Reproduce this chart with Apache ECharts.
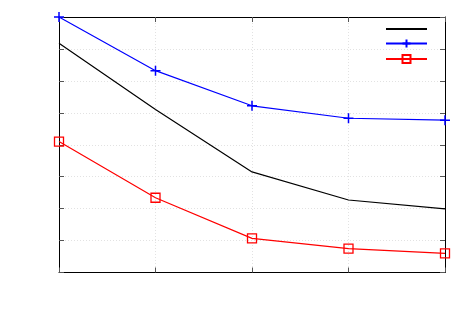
<!DOCTYPE html>
<html>
<head>
<meta charset="utf-8">
<script src="https://cdn.jsdelivr.net/npm/echarts@6/dist/echarts.min.js"></script>
<style>html,body{margin:0;padding:0;background:#fff}#c{width:472px;height:314px}</style>
</head>
<body>
<div id="c"></div>
<script>
const categories = ['1', '2', '3', '4', '5'];
const blackValues = [7.18, 5.10, 3.15, 2.27, 1.99];
const blueValues = [8.0, 6.32, 5.22, 4.83, 4.77];
const redValues = [4.10, 2.34, 1.07, 0.75, 0.60];
const yTicks = [0, 1, 2, 3, 4, 5, 6, 7, 8];

const chart = echarts.init(document.getElementById('c'), null, {renderer: 'canvas'});
const axisLine = {show: true, onZero: false, lineStyle: {color: '#000', width: 1}};
const tick = {show: true, inside: true, length: 5, lineStyle: {color: '#555', width: 1}};
const split = {show: true, lineStyle: {color: '#e2e2e2', type: [1, 2], width: 1}};
chart.setOption({
  animation: false,
  backgroundColor: '#fff',
  grid: {left: 59, top: 17, width: 386, height: 255.5, containLabel: false},
  legend: {
    orient: 'vertical', left: 380, top: 19, padding: 5, itemWidth: 41, itemHeight: 10, itemGap: 5.5,
    formatter: () => '', selectedMode: false,
    data: [{name: 's1', itemStyle: {opacity: 0}}, 's2', 's3']
  },
  xAxis: [
    {type: 'category', data: categories, boundaryGap: false, position: 'bottom',
     axisLine, axisTick: Object.assign({}, tick, {interval: 0}), axisLabel: {show: false}, splitLine: Object.assign({}, split, {interval: 0})},
    {type: 'category', data: categories, boundaryGap: false, position: 'top',
     axisLine, axisTick: Object.assign({}, tick, {interval: 0}), axisLabel: {show: false}, splitLine: {show: false}}
  ],
  yAxis: [
    {type: 'value', min: yTicks[0], max: yTicks[yTicks.length - 1], interval: 1, position: 'left',
     axisLine, axisTick: tick, axisLabel: {show: false}, splitLine: split},
    {type: 'value', min: yTicks[0], max: yTicks[yTicks.length - 1], interval: 1, position: 'right',
     axisLine, axisTick: tick, axisLabel: {show: false}, splitLine: {show: false}}
  ],
  series: [
    {name: 's1', type: 'line', data: blackValues, symbol: 'none',
     lineStyle: {color: '#000', width: 1.2}, itemStyle: {color: '#000'}},
    {name: 's2', type: 'line', data: blueValues, symbol: 'path://M0,-5 L0,5 M-5,0 L5,0', symbolSize: 10,
     lineStyle: {color: '#0000ff', width: 1.2},
     itemStyle: {color: '#0000ff', borderColor: '#0000ff', borderWidth: 1.5}},
    {name: 's3', type: 'line', data: redValues, symbol: 'rect', symbolSize: 9,
     lineStyle: {color: '#ff0000', width: 1.2},
     itemStyle: {color: 'rgba(255,255,255,0)', borderColor: '#ff0000', borderWidth: 1.3}}
  ]
});
</script>
</body>
</html>
